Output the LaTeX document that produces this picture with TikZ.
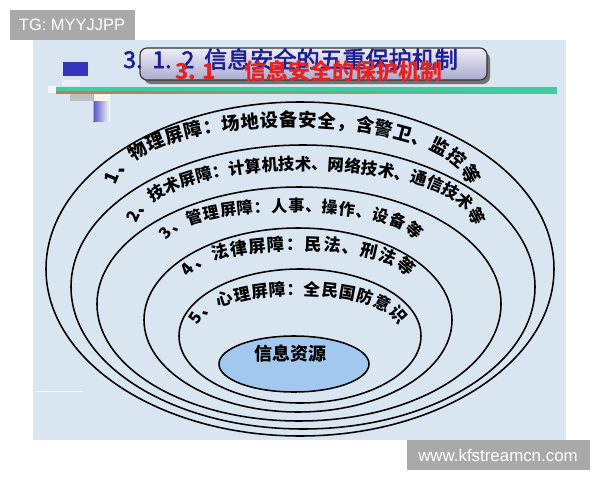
\documentclass[tikz,border=0pt]{standalone}
\usepackage{fontspec}
\setmainfont{Liberation Sans}
\newfontfamily\cjk{Noto Sans CJK SC}
\newfontfamily\cjktitle{Noto Sans CJK SC}[FakeBold=2.5]
\usetikzlibrary{decorations.text}
\definecolor{slidebg}{HTML}{D9E6F2}
\definecolor{titleblue}{HTML}{1E1E96}
\definecolor{titlered}{HTML}{E42424}
\definecolor{boxtop}{HTML}{EEEEF8}
\definecolor{boxbottom}{HTML}{AAAACC}
\definecolor{corefill}{HTML}{A3C8F0}
\definecolor{markgray}{HTML}{A9A9A9}
\definecolor{linegreen}{HTML}{3FCCA0}
\definecolor{lineorange}{HTML}{C4785A}
\definecolor{squareblue}{HTML}{3434BC}

\begin{document}
\begin{tikzpicture}[x=0.025cm,y=-0.025cm,line join=round,line cap=round,
  ring/.style={line width=1.1pt},
  ringtext/.style={decorate,decoration={text along path,text align={fit to path},text={#1}}},
  tagbox/.style={fill=markgray},
  ]
\useasboundingbox (0,0) rectangle (600,480);
\fill[white] (0,0) rectangle (600,480);
% slide background
\fill[slidebg] (33,40) rectangle (566,440);
\draw[white,line width=0.6pt,opacity=0.8] (35,391)--(82,391);
% small marks left of the title
\fill[squareblue] (63,62) rectangle (88,76);
\fill[boxtop] (62,80) rectangle (80,86);
\fill[white!70!slidebg] (48,86) rectangle (57,93);
\fill[black!25] (70,94) rectangle (93,101);
\fill[white!80!pink] (93,94) rectangle (110,101);
\shade[left color=squareblue!85,right color=white] (93,101) rectangle (110,121);
\draw[black!30,line width=0.4pt] (93,94)--(93,121);
% green line
\fill[linegreen] (56,87) rectangle (557,91);
\shade[left color=lineorange,right color=linegreen] (56,91) rectangle (557,93);
% title box
\fill[black!55,rounded corners=5pt] (144,52) rectangle (490,84);
\draw[black!80,line width=0.8pt,rounded corners=5pt,top color=boxtop,bottom color=boxbottom] (140,48) rectangle (487,80);
\node[anchor=base west,inner sep=0,text=titleblue,font=\cjktitle\fontsize{16.4pt}{16.4pt}\selectfont] (title) at (123,68)
  {3.\hspace{0.43em}1.\hspace{0.43em}2\hspace{0.43em}信息安全的五重保护机制};
\node[anchor=base west,inner sep=0,text=titlered,font=\cjk\bfseries\fontsize{15.6pt}{15.6pt}\selectfont] (oldtitle) at (175,79)
  {3.\hspace{0.3em}1\hspace{1.3em}信息安全的保护机制};
% rings
\foreach \cx/\cy/\rx/\ry in {300/269/254/167,303/287/232/142,299/304/202/117,298/320/154/92,300/336/121/67}
  \draw[ring] (\cx,\cy) ellipse [x radius=\rx,y radius=\ry];
% ring labels
\path[ringtext={|\cjk\bfseries\fontsize{13pt}{13pt}\selectfont|1、物理屏障：场地设备安全，含警卫、监控等}]
  (116,186) .. controls (135,107) and (449,107) .. (468,186);
\path[ringtext={|\cjk\bfseries\fontsize{11.7pt}{11.7pt}\selectfont|2、技术屏障：计算机技术、网络技术、通信技术等}]
  (137,224) .. controls (157,152) and (453,152) .. (473,224);
\path[ringtext={|\cjk\bfseries\fontsize{11.4pt}{11.4pt}\selectfont|3、管理屏障：人事、操作、设备等}]
  (167,241) .. controls (185,202) and (397,202) .. (415,241);
\path[ringtext={|\cjk\bfseries\fontsize{12.2pt}{12.2pt}\selectfont|4、法律屏障：民法、刑法等}]
  (189,278) .. controls (205,241) and (391,241) .. (407,278);
\path[ringtext={|\cjk\bfseries\fontsize{11.8pt}{11.8pt}\selectfont|5、心理屏障：全民国防意识}]
  (198,326) .. controls (212,285) and (384,285) .. (398,326);
% core
\draw[ring,fill=corefill] (294,364) ellipse [x radius=75,y radius=28];
\node[font=\cjk\bfseries\fontsize{12.8pt}{12.8pt}\selectfont] (core) at (290,354) {信息资源};
% watermarks
\fill[tagbox] (10,10) rectangle (135,40);
\node[text=white,font=\fontsize{11.7pt}{11.7pt}\selectfont] (tg) at (72,25) {TG: MYYJJPP};
\fill[tagbox] (407,440) rectangle (590,470);
\node[text=white,font=\fontsize{12pt}{12pt}\selectfont] (site) at (498,455) {www.kfstreamcn.com};
\end{tikzpicture}
\end{document}
